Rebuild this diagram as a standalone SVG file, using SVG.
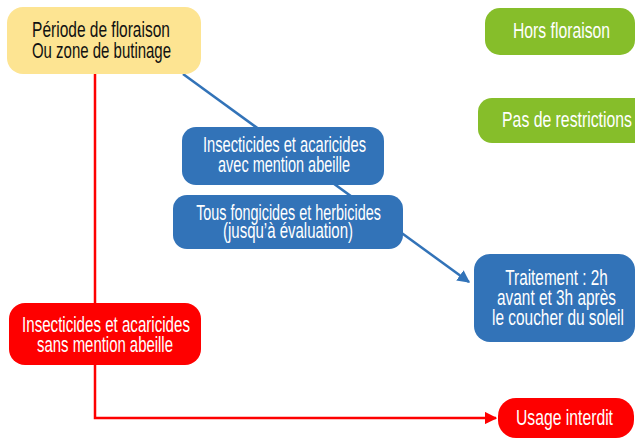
<svg xmlns="http://www.w3.org/2000/svg" width="635" height="438" viewBox="0 0 635 438">
<style>
text{font-family:"Liberation Sans","Roboto",sans-serif;font-size:22px;text-anchor:middle}
.w{fill:#fff}
.k{fill:#111}
.blue{fill:#3273b8}
.green{fill:#86be2a}
.red{fill:#fe0000}
.yel{fill:#fde492}
</style>
<defs>
<marker id="ab" viewBox="0 0 10 10" refX="9" refY="5" markerWidth="5" markerHeight="5" orient="auto" markerUnits="strokeWidth"><path d="M0,0 L10,5 L0,10 z" fill="#3273b8"/></marker>
<marker id="ar" viewBox="0 0 10 10" refX="9" refY="5" markerWidth="5" markerHeight="5" orient="auto" markerUnits="strokeWidth"><path d="M0,0 L10,5 L0,10 z" fill="#fe0000"/></marker>
</defs>
<g id="connectors">
<path d="M183,74 L469,282" stroke="#3273b8" stroke-width="2.5" fill="none" marker-end="url(#ab)"/>
<path d="M95,74 L95,418 L496,418" stroke="#fe0000" stroke-width="2.5" fill="none" marker-end="url(#ar)"/>
</g>
<g id="periode">
<rect class="yel" x="7" y="7" width="194" height="67" rx="16"/>
<text class="k" transform="translate(101 37) scale(0.705 1)">Période de floraison</text>
<text class="k" transform="translate(101.5 58) scale(0.681 1)">Ou zone de butinage</text>
</g>
<g id="hors">
<rect class="green" x="485" y="8" width="150" height="47" rx="15"/>
<text class="w" transform="translate(561.5 38) scale(0.715 1)">Hors floraison</text>
</g>
<g id="pas">
<rect class="green" x="478" y="98" width="180" height="45" rx="14"/>
<text class="w" transform="translate(567 127) scale(0.718 1)">Pas de restrictions</text>
</g>
<g id="insect-avec">
<rect class="blue" x="182" y="127" width="202" height="58" rx="14"/>
<text class="w" transform="translate(284.5 152) scale(0.667 1)">Insecticides et acaricides</text>
<text class="w" transform="translate(284 172) scale(0.658 1)">avec mention abeille</text>
</g>
<g id="fongicides">
<rect class="blue" x="173" y="195" width="230" height="54" rx="14"/>
<text class="w" transform="translate(288.5 220) scale(0.654 1)">Tous fongicides et herbicides</text>
<text class="w" transform="translate(288 238) scale(0.682 1)">(jusqu’à évaluation)</text>
</g>
<g id="traitement">
<rect class="blue" x="474" y="254" width="161" height="88" rx="16"/>
<text class="w" transform="translate(556.5 285) scale(0.696 1)">Traitement : 2h</text>
<text class="w" transform="translate(556.5 305) scale(0.7 1)">avant et 3h après</text>
<text class="w" transform="translate(558 325) scale(0.701 1)">le coucher du soleil</text>
</g>
<g id="insect-sans">
<rect class="red" x="9" y="303" width="192" height="62" rx="16"/>
<text class="w" transform="translate(106 332) scale(0.687 1)">Insecticides et acaricides</text>
<text class="w" transform="translate(105 352) scale(0.678 1)">sans mention abeille</text>
</g>
<g id="usage">
<rect class="red" x="498" y="398" width="136" height="40" rx="18"/>
<text class="w" transform="translate(564.5 425) scale(0.715 1)">Usage interdit</text>
</g>
</svg>
